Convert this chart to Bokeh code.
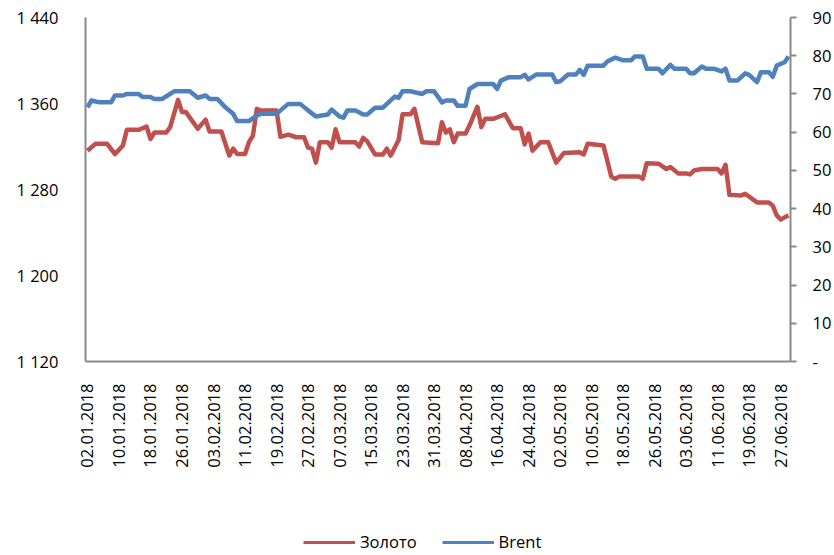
import math
import pandas as pd
from bokeh.plotting import figure
from bokeh.layouts import column
from bokeh.models import (Range1d, LinearAxis, FixedTicker, DatetimeTickFormatter,
                          Legend, LegendItem, ColumnDataSource)
from bokeh.embed import file_html
from bokeh.resources import INLINE

# ---------------- data ----------------
gold_dates = ["2018-01-02", "2018-01-04", "2018-01-07", "2018-01-09", "2018-01-11", "2018-01-12",
              "2018-01-15", "2018-01-17", "2018-01-18", "2018-01-19", "2018-01-22", "2018-01-23",
              "2018-01-25", "2018-01-26", "2018-01-27", "2018-01-30", "2018-02-01", "2018-02-02",
              "2018-02-05", "2018-02-07", "2018-02-08", "2018-02-09", "2018-02-11", "2018-02-12",
              "2018-02-13", "2018-02-14", "2018-02-15", "2018-02-19", "2018-02-20", "2018-02-22",
              "2018-02-24", "2018-02-26", "2018-02-27", "2018-02-28", "2018-03-01", "2018-03-02",
              "2018-03-04", "2018-03-05", "2018-03-06", "2018-03-07", "2018-03-09", "2018-03-11",
              "2018-03-12", "2018-03-13", "2018-03-14", "2018-03-16", "2018-03-18", "2018-03-19",
              "2018-03-20", "2018-03-22", "2018-03-23", "2018-03-25", "2018-03-26", "2018-03-28",
              "2018-04-01", "2018-04-02", "2018-04-03", "2018-04-04", "2018-04-05", "2018-04-06",
              "2018-04-08", "2018-04-09", "2018-04-11", "2018-04-12", "2018-04-13", "2018-04-15",
              "2018-04-16", "2018-04-18", "2018-04-20", "2018-04-22", "2018-04-23", "2018-04-24",
              "2018-04-25", "2018-04-27", "2018-04-29", "2018-05-01", "2018-05-03", "2018-05-07",
              "2018-05-08", "2018-05-09", "2018-05-13", "2018-05-15", "2018-05-16", "2018-05-17",
              "2018-05-22", "2018-05-23", "2018-05-24", "2018-05-27", "2018-05-29", "2018-05-30",
              "2018-06-01", "2018-06-03", "2018-06-04", "2018-06-05", "2018-06-07", "2018-06-11",
              "2018-06-12", "2018-06-13", "2018-06-14", "2018-06-17", "2018-06-18", "2018-06-21",
              "2018-06-24", "2018-06-25", "2018-06-26", "2018-06-27", "2018-06-29"]
gold_values = [1316, 1322.5, 1322.5, 1313, 1321, 1335.5,
               1335.5, 1338.6, 1327, 1333, 1333, 1338,
               1363.4, 1352, 1352, 1336.5, 1345, 1334,
               1334, 1311.6, 1318, 1313, 1313, 1324,
               1330, 1355, 1353.5, 1353.5, 1329, 1331,
               1328.6, 1328.6, 1319, 1318, 1305, 1324,
               1324, 1319, 1336, 1324, 1324, 1324,
               1320, 1328, 1325, 1312.6, 1312.6, 1318,
               1311.6, 1326, 1350, 1350, 1355, 1324,
               1323, 1342.6, 1333, 1336, 1324, 1332,
               1332, 1339.5, 1357, 1338, 1345.8, 1345.8,
               1347, 1350, 1337, 1337, 1322, 1332,
               1316, 1324, 1324, 1305, 1314, 1314.7,
               1312.6, 1322.5, 1321, 1292, 1290, 1292,
               1292, 1290, 1304.5, 1304, 1299, 1301,
               1295, 1295, 1294, 1297.7, 1299, 1299,
               1295, 1303, 1275, 1274.5, 1276, 1268,
               1268, 1265, 1256, 1252, 1256]

brent_dates = ["2018-01-02", "2018-01-03", "2018-01-05", "2018-01-08", "2018-01-09", "2018-01-11",
               "2018-01-12", "2018-01-15", "2018-01-16", "2018-01-18", "2018-01-19", "2018-01-21",
               "2018-01-24", "2018-01-28", "2018-01-30", "2018-02-01", "2018-02-02", "2018-02-04",
               "2018-02-06", "2018-02-08", "2018-02-09", "2018-02-12", "2018-02-14", "2018-02-15",
               "2018-02-19", "2018-02-20", "2018-02-22", "2018-02-25", "2018-02-27", "2018-03-01",
               "2018-03-04", "2018-03-05", "2018-03-07", "2018-03-08", "2018-03-09", "2018-03-11",
               "2018-03-13", "2018-03-14", "2018-03-16", "2018-03-18", "2018-03-21", "2018-03-22",
               "2018-03-23", "2018-03-25", "2018-03-28", "2018-03-29", "2018-03-31", "2018-04-02",
               "2018-04-03", "2018-04-05", "2018-04-06", "2018-04-08", "2018-04-09", "2018-04-11",
               "2018-04-15", "2018-04-16", "2018-04-17", "2018-04-19", "2018-04-22", "2018-04-23",
               "2018-04-24", "2018-04-26", "2018-04-30", "2018-05-01", "2018-05-02", "2018-05-04",
               "2018-05-06", "2018-05-07", "2018-05-08", "2018-05-09", "2018-05-13", "2018-05-14",
               "2018-05-16", "2018-05-18", "2018-05-20", "2018-05-21", "2018-05-23", "2018-05-24",
               "2018-05-27", "2018-05-28", "2018-05-30", "2018-05-31", "2018-06-03", "2018-06-04",
               "2018-06-05", "2018-06-07", "2018-06-08", "2018-06-10", "2018-06-12", "2018-06-13",
               "2018-06-14", "2018-06-16", "2018-06-18", "2018-06-19", "2018-06-21", "2018-06-22",
               "2018-06-24", "2018-06-25", "2018-06-26", "2018-06-28", "2018-06-29"]
brent_values = [66.5, 68.3, 67.8, 67.8, 69.6, 69.6,
                70.0, 70.0, 69.2, 69.2, 68.7, 68.7,
                70.7, 70.7, 69.0, 69.6, 68.7, 68.7,
                66.5, 64.8, 62.9, 62.9, 64.4, 64.8,
                64.8, 65.7, 67.4, 67.4, 65.7, 64.1,
                64.6, 65.9, 64.1, 63.8, 65.7, 65.7,
                64.6, 64.6, 66.4, 66.4, 69.3, 69.0,
                70.7, 70.7, 70.0, 70.7, 70.7, 67.8,
                68.3, 68.3, 66.9, 66.9, 71.3, 72.6,
                72.6, 71.3, 73.5, 74.4, 74.4, 75.0,
                73.8, 75.1, 75.1, 73.1, 73.3, 75.1,
                75.1, 76.3, 75.0, 77.4, 77.4, 78.5,
                79.5, 78.8, 78.8, 79.8, 79.8, 76.6,
                76.6, 75.4, 77.6, 76.6, 76.6, 75.4,
                75.4, 77.2, 76.6, 76.6, 75.9, 76.6,
                73.5, 73.5, 75.4, 75.0, 73.1, 75.7,
                75.7, 74.5, 77.4, 78.3, 79.8]

left_ticks = [1120, 1200, 1280, 1360, 1440]
right_ticks = [0, 10, 20, 30, 40, 50, 60, 70, 80, 90]
x_tick_dates = ["2018-01-02", "2018-01-10", "2018-01-18", "2018-01-26", "2018-02-03", "2018-02-11",
                "2018-02-19", "2018-02-27", "2018-03-07", "2018-03-15", "2018-03-23", "2018-03-31",
                "2018-04-08", "2018-04-16", "2018-04-24", "2018-05-02", "2018-05-10", "2018-05-18",
                "2018-05-26", "2018-06-03", "2018-06-11", "2018-06-19", "2018-06-27"]
series_names = ["Золото", "Brent"]

# ---------------- styling ----------------
RED = "#C0504D"
BLUE = "#4F81BD"
AXIS = "#898989"
FONT = "Open Sans"
FS = "16.5px"
LW = 4.5

gold_src = ColumnDataSource(dict(x=pd.to_datetime(gold_dates), y=gold_values))
brent_src = ColumnDataSource(dict(x=pd.to_datetime(brent_dates), y=brent_values))

x_start = pd.Timestamp("2018-01-01 12:00")
x_end = pd.Timestamp("2018-06-29 12:00")

p = figure(width=834, height=510, output_backend="svg", toolbar_location=None,
           x_axis_type="datetime",
           x_range=Range1d(x_start, x_end),
           y_range=Range1d(left_ticks[0], left_ticks[-1]),
           min_border_left=85, min_border_right=44, min_border_top=17, min_border_bottom=149)
p.extra_y_ranges = {"brent": Range1d(right_ticks[0], right_ticks[-1])}
p.outline_line_color = None
p.xgrid.visible = False
p.ygrid.visible = False
p.background_fill_color = "white"
p.border_fill_color = "white"

r_gold = p.line("x", "y", source=gold_src, line_color=RED, line_width=LW, line_join="round")
r_brent = p.line("x", "y", source=brent_src, y_range_name="brent", line_color=BLUE,
                 line_width=LW, line_join="round")

# x axis
xa = p.xaxis[0]
xa.ticker = FixedTicker(ticks=[pd.Timestamp(d).value // 10**6 for d in x_tick_dates])
fmt = "%d.%m.%Y"
xa.formatter = DatetimeTickFormatter(days=fmt, months=fmt, years=fmt, hours=fmt,
                                     hourmin=fmt, minutes=fmt, minsec=fmt, seconds=fmt,
                                     milliseconds=fmt, microseconds=fmt)
xa.major_label_orientation = math.pi / 2
xa.major_tick_out = 0
xa.major_tick_in = 0
xa.minor_tick_out = 0
xa.minor_tick_in = 0
xa.major_label_standoff = 22
xa.axis_line_color = AXIS
xa.axis_line_width = 2
xa.major_label_text_font = FONT
xa.major_label_text_font_size = FS
xa.major_label_text_color = "black"

# left axis
ya = p.yaxis[0]
ya.ticker = FixedTicker(ticks=left_ticks)
ya.major_label_overrides = {v: f"{v:,}".replace(",", " ") for v in left_ticks}
ya.major_tick_out = 0
ya.major_tick_in = 0
ya.minor_tick_out = 0
ya.minor_tick_in = 0
ya.major_label_standoff = 27
ya.axis_line_color = AXIS
ya.axis_line_width = 2
ya.major_label_text_font = FONT
ya.major_label_text_font_size = FS
ya.major_label_text_color = "black"

# right axis
ra = LinearAxis(y_range_name="brent", ticker=FixedTicker(ticks=right_ticks))
ra.major_label_overrides = {v: ("-" if v == 0 else str(v)) for v in right_ticks}
ra.major_tick_out = 6
ra.major_tick_in = 0
ra.minor_tick_out = 0
ra.minor_tick_in = 0
ra.major_tick_line_color = AXIS
ra.major_tick_line_width = 2
ra.major_label_standoff = 16
ra.axis_line_color = AXIS
ra.axis_line_width = 2
ra.major_label_text_font = FONT
ra.major_label_text_font_size = FS
ra.major_label_text_color = "black"
p.add_layout(ra, "right")

# ---------------- legend strip below the chart ----------------
lf = figure(width=834, height=45, output_backend="svg", toolbar_location=None,
            x_range=Range1d(0, 1), y_range=Range1d(0, 1),
            x_axis_type=None, y_axis_type=None, min_border=0)
lf.outline_line_color = None
lf.xgrid.visible = False
lf.ygrid.visible = False
# legend key renderers: their points lie outside the strip's visible range
lg_gold = lf.line(x=[-3, -2], y=[-3, -2], line_color=RED, line_width=3)
lg_brent = lf.line(x=[-3, -2], y=[-3, -2], line_color=BLUE, line_width=3)
legend = Legend(items=[LegendItem(label=series_names[0], renderers=[lg_gold]),
                       LegendItem(label=series_names[1], renderers=[lg_brent])],
                orientation="horizontal", location=(218, 2),
                glyph_width=52, glyph_height=20, label_standoff=5, spacing=25,
                padding=0, margin=0,
                border_line_color=None, background_fill_alpha=0,
                label_text_font=FONT, label_text_font_size=FS, label_text_color="black")
lf.add_layout(legend, "center")

layout = column(p, lf, spacing=0)
open("out.html", "w").write(file_html(layout, INLINE))
